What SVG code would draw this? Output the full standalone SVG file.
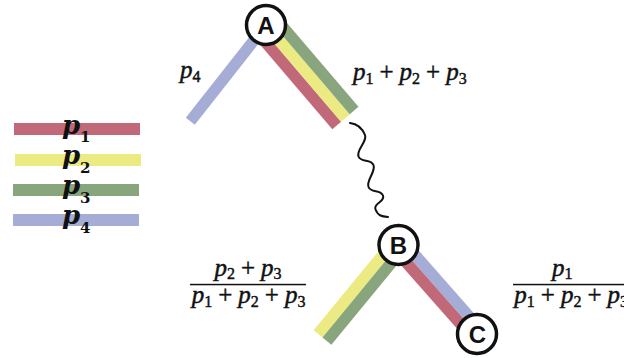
<svg xmlns="http://www.w3.org/2000/svg" width="624" height="358" viewBox="0 0 624 358">
<style>
.band{stroke-width:11.5;stroke-linecap:butt;fill:none}
.r{stroke:#c16978}.y{stroke:#ecea83}.g{stroke:#88a57d}.b{stroke:#a5acd5}
.rf{fill:#c16978}.yf{fill:#ecea83}.gf{fill:#88a57d}.bf{fill:#a5acd5}
.wave{fill:none;stroke:#111;stroke-width:2;stroke-linecap:round}
.node circle{fill:#fff;stroke:#111;stroke-width:3.5}
.node text{font-family:"Liberation Sans",Arial,sans-serif;font-weight:bold;font-size:24px;text-anchor:middle;fill:#111}
.m{font-family:"Liberation Serif","Times New Roman",serif;font-style:italic;font-size:25px;fill:#111;stroke:#111;stroke-width:0.45}
.s{font-style:normal;font-size:16px}
.op{font-style:normal}
.lg{font-family:"DejaVu Serif",serif;font-style:italic;font-weight:bold;font-size:26px;fill:#111}
.lgs{font-style:normal;font-size:15px}
.bar{fill:#111}
</style>
<g id="legend">
<rect class="rf" x="14" y="123" width="126" height="12"/>
<rect class="yf" x="15" y="154" width="126" height="12"/>
<rect class="gf" x="13" y="184" width="126" height="12"/>
<rect class="bf" x="13" y="214" width="126" height="12"/>
<text class="lg" x="62" y="133.5">p<tspan class="lgs" x="80" y="142">1</tspan></text>
<text class="lg" x="62" y="164">p<tspan class="lgs" x="80" y="172.5">2</tspan></text>
<text class="lg" x="62" y="194">p<tspan class="lgs" x="80" y="202.5">3</tspan></text>
<text class="lg" x="62" y="224.2">p<tspan class="lgs" x="80" y="232.7">4</tspan></text>
</g>
<g id="connectors">
<line class="band b" x1="266" y1="25" x2="190.3" y2="121.2"/>
<line class="band r" x1="257.3" y1="32.5" x2="336.7" y2="125.5"/>
<line class="band y" x1="266" y1="25" x2="345.4" y2="118"/>
<line class="band g" x1="274.7" y1="17.5" x2="354.1" y2="110.5"/>
<line class="band y" x1="394.06" y1="241.35" x2="318.06" y2="333.85"/>
<line class="band g" x1="402.94" y1="248.65" x2="326.94" y2="341.15"/>
<line class="band b" x1="402.81" y1="241.2" x2="481.31" y2="330.2"/>
<line class="band r" x1="394.19" y1="248.8" x2="472.69" y2="337.8"/>
<path class="wave" d="M350,123 C358,124 362.4,128.5 365,135 C367.6,141.5 355.9,150 358.5,156.5 C361.1,163 370.9,158.5 373.5,165 C376.1,171.5 365.9,180.5 368.5,187 C371.1,193.5 380.4,189 383,195.5 C385.6,202 372.9,203 375.5,209.5 C378.1,216 382,216.5 388,217"/>
</g>
<g id="A" class="node"><circle cx="266" cy="25" r="19.5"/><text x="266" y="33.6">A</text></g>
<g id="B" class="node"><circle cx="398.5" cy="245" r="19.5"/><text x="398.5" y="253.6">B</text></g>
<g id="C" class="node"><circle cx="477" cy="334" r="19.5"/><text x="477.5" y="342.6">C</text></g>
<g id="labels">
<text class="m" x="180" y="78">p<tspan class="s" x="192.5" y="82">4</tspan></text>
<text class="m" x="353" y="79.5">p<tspan class="s" x="365.5" y="83.5">1</tspan><tspan class="op" x="379.5" y="79.5">+</tspan><tspan x="399.6">p</tspan><tspan class="s" x="412.1" y="83.5">2</tspan><tspan class="op" x="426.1" y="79.5">+</tspan><tspan x="446.2">p</tspan><tspan class="s" x="458.7" y="83.5">3</tspan></text>
<text class="m" x="214.5" y="275.5">p<tspan class="s" x="227" y="279">2</tspan><tspan class="op" x="241" y="275.5">+</tspan><tspan x="261.1">p</tspan><tspan class="s" x="273.6" y="279">3</tspan></text>
<rect class="bar" x="190" y="283.8" width="116" height="1.5"/>
<text class="m" x="191.7" y="303">p<tspan class="s" x="204.2" y="307">1</tspan><tspan class="op" x="218.2" y="303">+</tspan><tspan x="238.3">p</tspan><tspan class="s" x="250.8" y="307">2</tspan><tspan class="op" x="264.8" y="303">+</tspan><tspan x="284.9">p</tspan><tspan class="s" x="297.4" y="307">3</tspan></text>
<text class="m" x="552" y="275.5">p<tspan class="s" x="564.5" y="279">1</tspan></text>
<rect class="bar" x="513" y="283.8" width="116" height="1.5"/>
<text class="m" x="514.3" y="303">p<tspan class="s" x="526.8" y="307">1</tspan><tspan class="op" x="540.8" y="303">+</tspan><tspan x="560.9">p</tspan><tspan class="s" x="573.4" y="307">2</tspan><tspan class="op" x="587.4" y="303">+</tspan><tspan x="607.5">p</tspan><tspan class="s" x="620" y="307">3</tspan></text>
</g>
</svg>
